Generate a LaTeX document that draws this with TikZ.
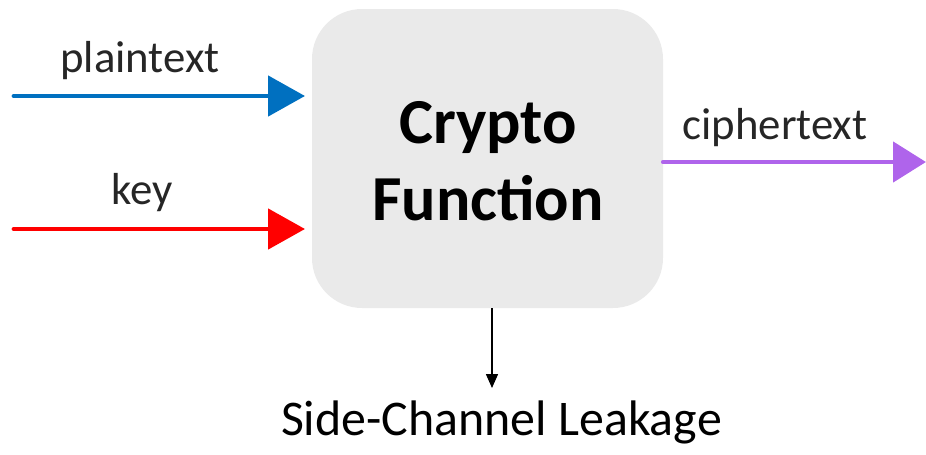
\documentclass[tikz,border=0pt]{standalone}
\usepackage{fontspec}
\setmainfont{Carlito}
\usepackage{xcolor}
\usepackage{tikz}
\usetikzlibrary{arrows.meta}
\definecolor{ptblue}{RGB}{0,112,192}
\definecolor{keyred}{RGB}{255,0,0}
\definecolor{ctpurple}{RGB}{175,100,235}
\definecolor{boxgray}{RGB}{234,234,234}
\definecolor{labelgray}{RGB}{38,38,38}

\begin{document}
\begin{tikzpicture}[
	lbl/.style={text=labelgray,anchor=base,inner sep=0pt,font=\fontsize{25.5}{30}\selectfont},
	title/.style={anchor=base,inner sep=0pt,font=\bfseries\fontsize{36.5}{40}\selectfont},
	fat/.style={line width=2.8pt,line cap=round,-{Triangle[length=0.74cm,width=0.8cm]}},
	]
		\useasboundingbox (0,0) rectangle (18.52,9.08);
		% the function block
		\node[fill=boxgray,rounded corners=1cm,minimum width=7.02cm,minimum height=5.98cm,inner sep=0pt] (func) at (9.75,5.91) {};
		\node[title] (crypto) at (9.76,6.22) {Crypto};
		\node[title] (function) at (9.76,4.68) {Function};
		%
		\coordinate (pt0) at (0.28,7.16);
		\coordinate (pt1) at (6.10,7.16);
		\coordinate (key0) at (0.28,4.50);
		\coordinate (key1) at (6.10,4.50);
		\coordinate (ct1) at (18.52,5.84);
		\coordinate (leak) at (9.84,1.32);
		%
		\node[lbl] (ptlabel) at (2.80,7.63) {plaintext};
		\node[lbl] (keylabel) at (2.84,5.00) {key};
		\node[lbl] (ctlabel) at (15.50,6.30) {ciphertext};
		\node[anchor=base,inner sep=0pt,font=\fontsize{28.4}{32}\selectfont] (leaklabel) at (10.03,0.38) {Side-Channel Leakage};
		%
		% inputs and output
		\draw[fat,ptblue] (pt0) -- (pt1);
		\draw[fat,keyred] (key0) -- (key1);
		\draw[fat,ctpurple,-{Triangle[length=0.66cm,width=0.8cm]}] (func.east |- ct1) -- (ct1);
		% leakage
		\draw[line width=0.85pt,-{Triangle[length=0.28cm,width=0.24cm]}] (func.south -| leak) -- (leak);
\end{tikzpicture}
\end{document}
